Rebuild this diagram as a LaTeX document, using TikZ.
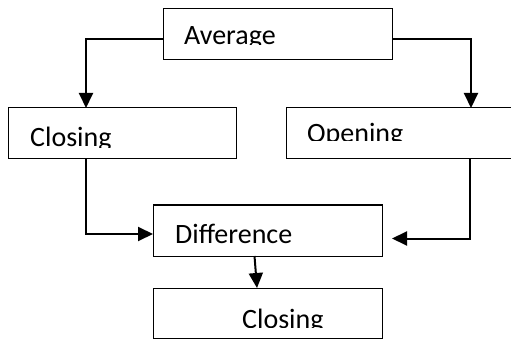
\documentclass[tikz,border=0pt]{standalone}
\usepackage{fontspec}
\setmainfont{Carlito}
\usetikzlibrary{arrows.meta}
\tikzset{
  box/.style={draw=black, line width=1pt, anchor=north west, inner sep=0pt, outer sep=0pt, minimum height=51pt},
  conn/.style={line width=2pt, -{Triangle[length=15pt,width=14pt]}},
  lbl/.style={anchor=base west, inner sep=0pt, font=\fontsize{28}{32}\selectfont}
}
\begin{document}
\begin{tikzpicture}[x=1pt,y=-1pt]
  \useasboundingbox (0,0) rectangle (511,339);
  \clip (0,0) rectangle (511,339);

  % boxes
  \node[box, minimum width=229pt] (avg)  at (163,9)   {};
  \node[box, minimum width=228pt] (cl)   at (8,108)   {};
  \node[box, minimum width=240pt] (op)   at (286,108) {};
  \node[box, minimum width=229pt] (diff) at (153,205) {};
  \node[box, minimum width=229pt, minimum height=50pt] (cl2) at (153,288) {};

  % labels, cut off at the bottom of their text frames
  \begin{scope}
    \clip (163,9) rectangle (392,45);
    \node[lbl] (avgtxt) at (184,45) {Average};
  \end{scope}
  \begin{scope}
    \clip (8,108) rectangle (236,148);
    \node[lbl] (cltxt) at (30,147) {Closing};
  \end{scope}
  \begin{scope}
    \clip (286,108) rectangle (511,141);
    \node[lbl] (optxt) at (307,142.5) {Opening};
  \end{scope}
  \node[lbl] (difftxt) at (175,243) {Difference};
  \begin{scope}
    \clip (153,288) rectangle (382,327);
    \node[lbl] (cltwotxt) at (242,328) {Closing};
  \end{scope}

  % connectors
  \draw[conn] ([yshift=-4.5pt]avg.west) -| ([xshift=-36pt]cl.north);
  \draw[conn] ([yshift=-4.5pt]avg.east) -| ([xshift=185pt]op.north west);
  \draw[conn] ([xshift=-36pt]cl.south) |- ([yshift=-3.5pt]diff.west);
  \draw[conn] ([xshift=184pt]op.south west) |- ([xshift=10pt,yshift=-8pt]diff.east);
  \draw[conn] ([xshift=-13pt]diff.south) -- ([xshift=-10.5pt]cl2.north);
\end{tikzpicture}
\end{document}
